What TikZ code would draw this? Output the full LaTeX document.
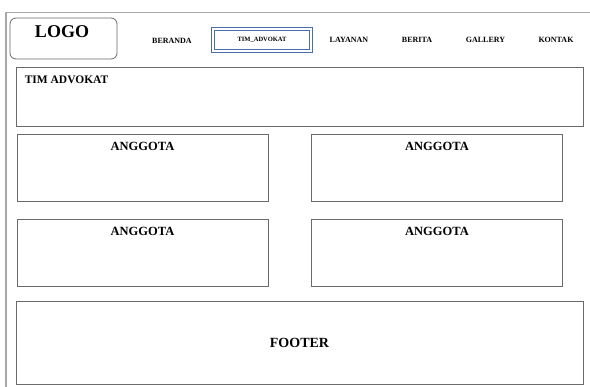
\documentclass[tikz,border=0pt]{standalone}
\usepackage{fontspec}
\setmainfont{Liberation Serif}
\usetikzlibrary{positioning}

\definecolor{boxline}{HTML}{6A6A6A}
\definecolor{frameline}{HTML}{A8A8A8}
\definecolor{navblue}{HTML}{4A6FA8}

\begin{document}
\begin{tikzpicture}[x=1pt, y=-1pt,
    panel/.style={draw=boxline, line width=0.8pt, inner sep=0pt},
    navtext/.style={font=\bfseries\fontsize{8}{9}\selectfont, inner sep=1pt},
    cardtext/.style={font=\bfseries\fontsize{12.5}{14}\selectfont, inner sep=0pt}]
    \useasboundingbox (0,0) rectangle (590,387);

    % The page frame
    \draw[frameline, line width=1.6pt] (6,387) -- (6,12.5) -- (590,12.5);

    % Header: logo and menu
    \node[panel, rounded corners=6pt, minimum width=107pt, minimum height=41pt] (logo) at (63.5,38.5) {};
    \node[font=\bfseries\fontsize{18}{20}\selectfont, inner sep=0pt] (logotext) at (62,32) {LOGO};
    \node[navtext] (beranda) at (172,40.5) {BERANDA};
    \node[draw=navblue, line width=1.2pt, double=white, double distance=1.2pt,
          minimum width=98pt, minimum height=22pt, inner sep=0pt] (active) at (262,40) {};
    \node[navtext, font=\bfseries\fontsize{6.5}{7}\selectfont] (timnav) at (active) {TIM\_ADVOKAT};
    \node[navtext] (layanan) at (349,40) {LAYANAN};
    \node[navtext] (berita) at (417,40) {BERITA};
    \node[navtext] (gallery) at (485.5,40) {GALLERY};
    \node[navtext] (kontak) at (556,40) {KONTAK};

    % Title bar
    \node[panel, minimum width=567pt, minimum height=59pt] (tim) at (299.5,96.5) {};
    \node[cardtext, font=\bfseries\fontsize{11.5}{13}\selectfont, anchor=north west]
        (timtext) at ([xshift=9pt, yshift=-9pt]tim.north west) {TIM ADVOKAT};

    % Members
    \foreach \name/\x/\y in {a/142.5/168, b/437/168, c/142.5/253, d/437/253} {
        \node[panel, minimum width=251pt, minimum height=67pt] (\name) at (\x,\y) {};
        \node[cardtext, anchor=north] (\name text) at ([yshift=-8pt]\name.north) {ANGGOTA};
    }

    % Footer
    \node[panel, minimum width=567pt, minimum height=83pt] (footer) at (299.5,342.5) {};
    \node[cardtext, font=\bfseries\fontsize{14}{16}\selectfont] (footertext) at (footer) {FOOTER};
\end{tikzpicture}
\end{document}
